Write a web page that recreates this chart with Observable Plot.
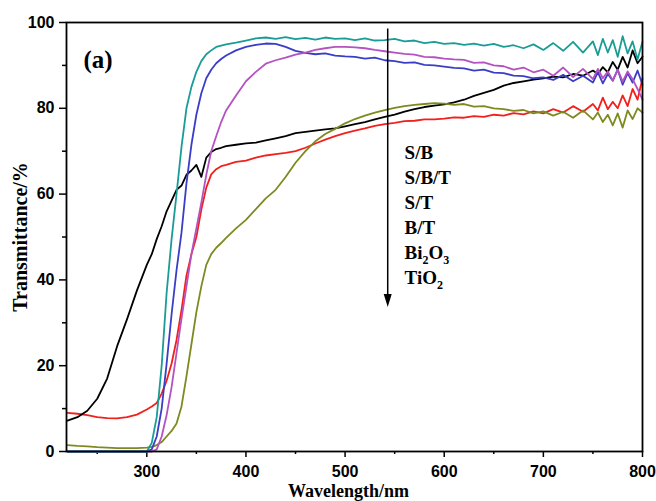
<!DOCTYPE html>
<html><head><meta charset="utf-8">
<script src="https://cdn.jsdelivr.net/npm/d3@7"></script>
<script src="https://cdn.jsdelivr.net/npm/@observablehq/plot@0.6"></script>
<style>body{margin:0;background:#fff}</style>
</head><body><div id="chart"></div>
<script>
const wavelength = [220,230,240,250,260,270,280,290,300,
  305,310,315,320,325,330,335,340,345,350,355,360,365,370,375,380,
  390,400,410,420,430,440,450,460,470,480,490,500,510,520,530,540,550,560,570,580,590,600,610,620,630,640,650,660,670,680,690,700,710,720,730,740,750,
  755,760,765,770,775,780,785,790,795,800];

const sB = [0,0,0,0,0,0,0,0,0,
  2,8,20,37,49.5,60,71,80,85,88.5,91,92.6,93.5,94.3,94.6,94.9,
  95.3,95.8,96.3,96.5,96.2,96.6,96.1,96.4,96.0,96.5,96.2,96.3,95.9,96.3,95.8,95.9,96.2,95.6,95.8,95.2,95.5,95.0,95.2,94.8,95.1,94.6,95.0,94.3,94.7,94.0,94.9,93.6,95.2,93.4,95.5,93.0,95.6,
  92.4,96.2,93.0,95.9,92.0,96.8,92.8,95.6,91.4,95.5];
const sBT = [0,0,0,0,0,0,0,0,0,
  0,0.5,3.5,8.5,15,23,31,38.5,46,52,58,64.5,70,73.5,76.8,79.5,
  83,86.3,88.5,90.4,91.2,91.8,92.5,93.0,93.6,94.0,94.3,94.3,94.2,94.0,93.6,93.3,93.0,92.7,92.5,92.0,91.9,91.6,91.4,91.3,90.6,90.7,90.0,89.8,89.0,89.5,88.4,89.0,87.6,89.5,87.3,89.2,86.8,
  89.2,87.0,88.6,86.5,89.0,86.2,88.6,86.8,84.5,82.0];
const sT = [0,0,0,0,0,0,0,0,0,
  0.5,3.5,10,20.5,32,42.3,51,62.5,71.5,78.5,83.5,87,89,90.5,91.5,92.3,
  93.5,94.3,94.8,95.1,95.0,94.3,93.4,92.9,92.6,92.8,92.3,92.1,92.0,91.6,91.8,91.2,91.0,90.6,90.7,90.1,90.0,89.7,89.4,89.3,88.8,89.0,88.3,88.2,87.6,87.5,87.0,87.2,86.6,87.8,86.3,87.6,86.0,
  88.4,85.8,88.0,86.4,89.0,85.5,88.2,86.0,88.8,85.5];
const bT = [1.5,1.3,1.2,1.0,0.9,0.8,0.8,0.8,0.9,
  1.1,1.5,2.2,3.5,4.8,6.5,10.5,17.5,25,32.5,38.5,43.5,46,47.5,48.6,49.8,
  52.0,54.0,56.5,59.0,61.0,64.0,67.3,70.0,72.3,74.0,75.2,76.5,77.5,78.3,79.0,79.6,80.1,80.5,80.8,81.0,81.2,81.1,80.8,81.0,80.4,80.5,80.0,79.8,79.4,79.6,78.8,79.3,78.3,79.2,77.8,79.5,77.4,
  79.0,76.8,78.5,76.0,78.8,75.5,79.5,77.5,80.0,79.0];
const bi2o3 = [7.2,8.0,9.5,12.3,17.0,24.5,30.8,37.5,43.5,
  46,49.5,52.5,56,58.5,61,62,64.5,65.5,66.8,64,68.5,69.8,70.5,70.8,71.2,
  71.5,71.8,72.0,72.5,73.0,73.5,74.2,74.5,74.8,75.1,75.3,75.8,76.3,76.8,77.4,78.0,78.5,79.2,79.8,80.3,80.6,80.9,81.4,82.0,82.9,83.6,84.3,85.3,85.9,86.3,86.7,87.0,87.4,87.2,88.0,87.6,88.8,
  88.0,89.6,88.4,90.8,89.0,92.0,89.5,93.5,90.5,92.0];
const tio2 = [9.0,8.8,8.5,8.0,7.8,7.7,8.0,8.6,9.8,
  10.5,11.3,13.5,16.5,20.5,26,33,41,46,50,56.4,61.5,64.6,65.8,66.5,66.8,
  67.5,67.8,68.5,69.0,69.3,69.6,70.0,70.8,71.8,72.7,73.5,74.2,74.8,75.3,75.9,76.3,76.6,77.0,77.1,77.4,77.4,77.6,77.9,77.8,78.2,78.0,78.5,78.3,78.9,78.6,79.3,78.8,79.8,79.0,80.5,79.2,81.0,
  79.5,82.5,79.8,81.5,80.0,83.0,80.5,84.5,82.0,87.0];

const seriesNames = ["S/B","S/B/T","S/T","B/T","Bi2O3","TiO2"];
const seriesValues = [sB, sBT, sT, bT, bi2o3, tio2];
const seriesColors = ["#1a9c96","#b452c2","#3a3ec6","#7e8a20","#000000","#f2201c"];

const xTicks = [300,400,500,600,700,800];
const xMinorTicks = [250,350,450,550,650,750];
const yTicks = [0,20,40,60,80,100];
const yMinorTicks = [10,30,50,70,90];
const xLabel = "Wavelength/nm";
const yLabel = "Transmittance/%";
const panelLabel = "(a)";
const arrowAt = 543, arrowFrom = 98.6, arrowTo = 33.7;
const legendX = 560, legendTop = 69.6, legendStep = 5.85;

const rows = seriesNames.slice().reverse().flatMap(name => {
  const vals = seriesValues[seriesNames.indexOf(name)];
  return wavelength.map((w, j) => ({name, w, t: vals[j]}));
});

const serif = "'Liberation Serif','Times New Roman',serif";
const sans = "'Liberation Sans',Arial,sans-serif";
const arrowHead = {draw(ctx) { ctx.moveTo(0, 0); ctx.lineTo(-4, -13); ctx.lineTo(4, -13); ctx.closePath(); }};

const plot = Plot.plot({
  width: 656, height: 501,
  marginLeft: 66, marginRight: 14, marginTop: 22, marginBottom: 50,
  style: {fontFamily: sans, fontSize: "16px", fontWeight: "bold", background: "#fff", color: "#000"},
  x: {domain: [219, 800], label: null},
  y: {domain: [0, 100], label: null},
  color: {domain: seriesNames, range: seriesColors},
  marks: [
    Plot.axisX({ticks: xTicks, tickSize: 6, tickPadding: 8, strokeWidth: 1.5, label: null, fontSize: 16, fontWeight: "bold"}),
    Plot.axisX({ticks: xMinorTicks, tickSize: 3, strokeWidth: 1.5, tickFormat: () => "", label: null}),
    Plot.axisY({ticks: yTicks, tickSize: 7, tickPadding: 5, strokeWidth: 1.5, label: null, fontSize: 16, fontWeight: "bold"}),
    Plot.axisY({ticks: yMinorTicks, tickSize: 4, strokeWidth: 1.5, tickFormat: () => "", label: null}),
    Plot.line(rows, {x: "w", y: "t", z: "name", stroke: "name", strokeWidth: 1.8}),
    Plot.frame({strokeWidth: 1.8}),
    Plot.link([arrowAt], {x1: d => d, x2: d => d, y1: () => arrowFrom, y2: () => arrowTo + 2, strokeWidth: 1.5, stroke: "#000"}),
    Plot.dot([arrowAt], {x: d => d, y: () => arrowTo, symbol: arrowHead, fill: "#000", stroke: "none"}),
    Plot.text(seriesNames, {x: () => legendX, y: (d, i) => legendTop - legendStep * i, text: d => d, textAnchor: "start", lineAnchor: "middle", fontFamily: serif, fontSize: 19, fontWeight: "bold"}),
    Plot.text([panelLabel], {frameAnchor: "top-left", dx: 17, dy: 37, textAnchor: "start", lineAnchor: "middle", fontFamily: serif, fontSize: 25, fontWeight: "bold"}),
    Plot.text([xLabel], {frameAnchor: "bottom", dx: -6, dy: 40, textAnchor: "middle", lineAnchor: "middle", fontFamily: serif, fontSize: 18, fontWeight: "bold"}),
    Plot.text([yLabel], {frameAnchor: "left", dx: -46, rotate: -90, textAnchor: "middle", lineAnchor: "middle", fontFamily: serif, fontSize: 20, fontWeight: "bold"})
  ]
});

plot.querySelectorAll("text").forEach(t => {
  const s = t.textContent;
  if (/^(Bi2O3|TiO2)$/.test(s)) {
    t.textContent = "";
    let prevSub = false;
    s.match(/[A-Za-z]+|\d+/g).forEach(p => {
      const ts = document.createElementNS("http://www.w3.org/2000/svg", "tspan");
      const isNum = /\d/.test(p);
      if (isNum) { ts.setAttribute("dy", "5"); ts.setAttribute("font-size", "12"); }
      else if (prevSub) ts.setAttribute("dy", "-5");
      prevSub = isNum;
      ts.textContent = p;
      t.appendChild(ts);
    });
  }
});

document.getElementById("chart").appendChild(plot);
</script>
</body></html>
